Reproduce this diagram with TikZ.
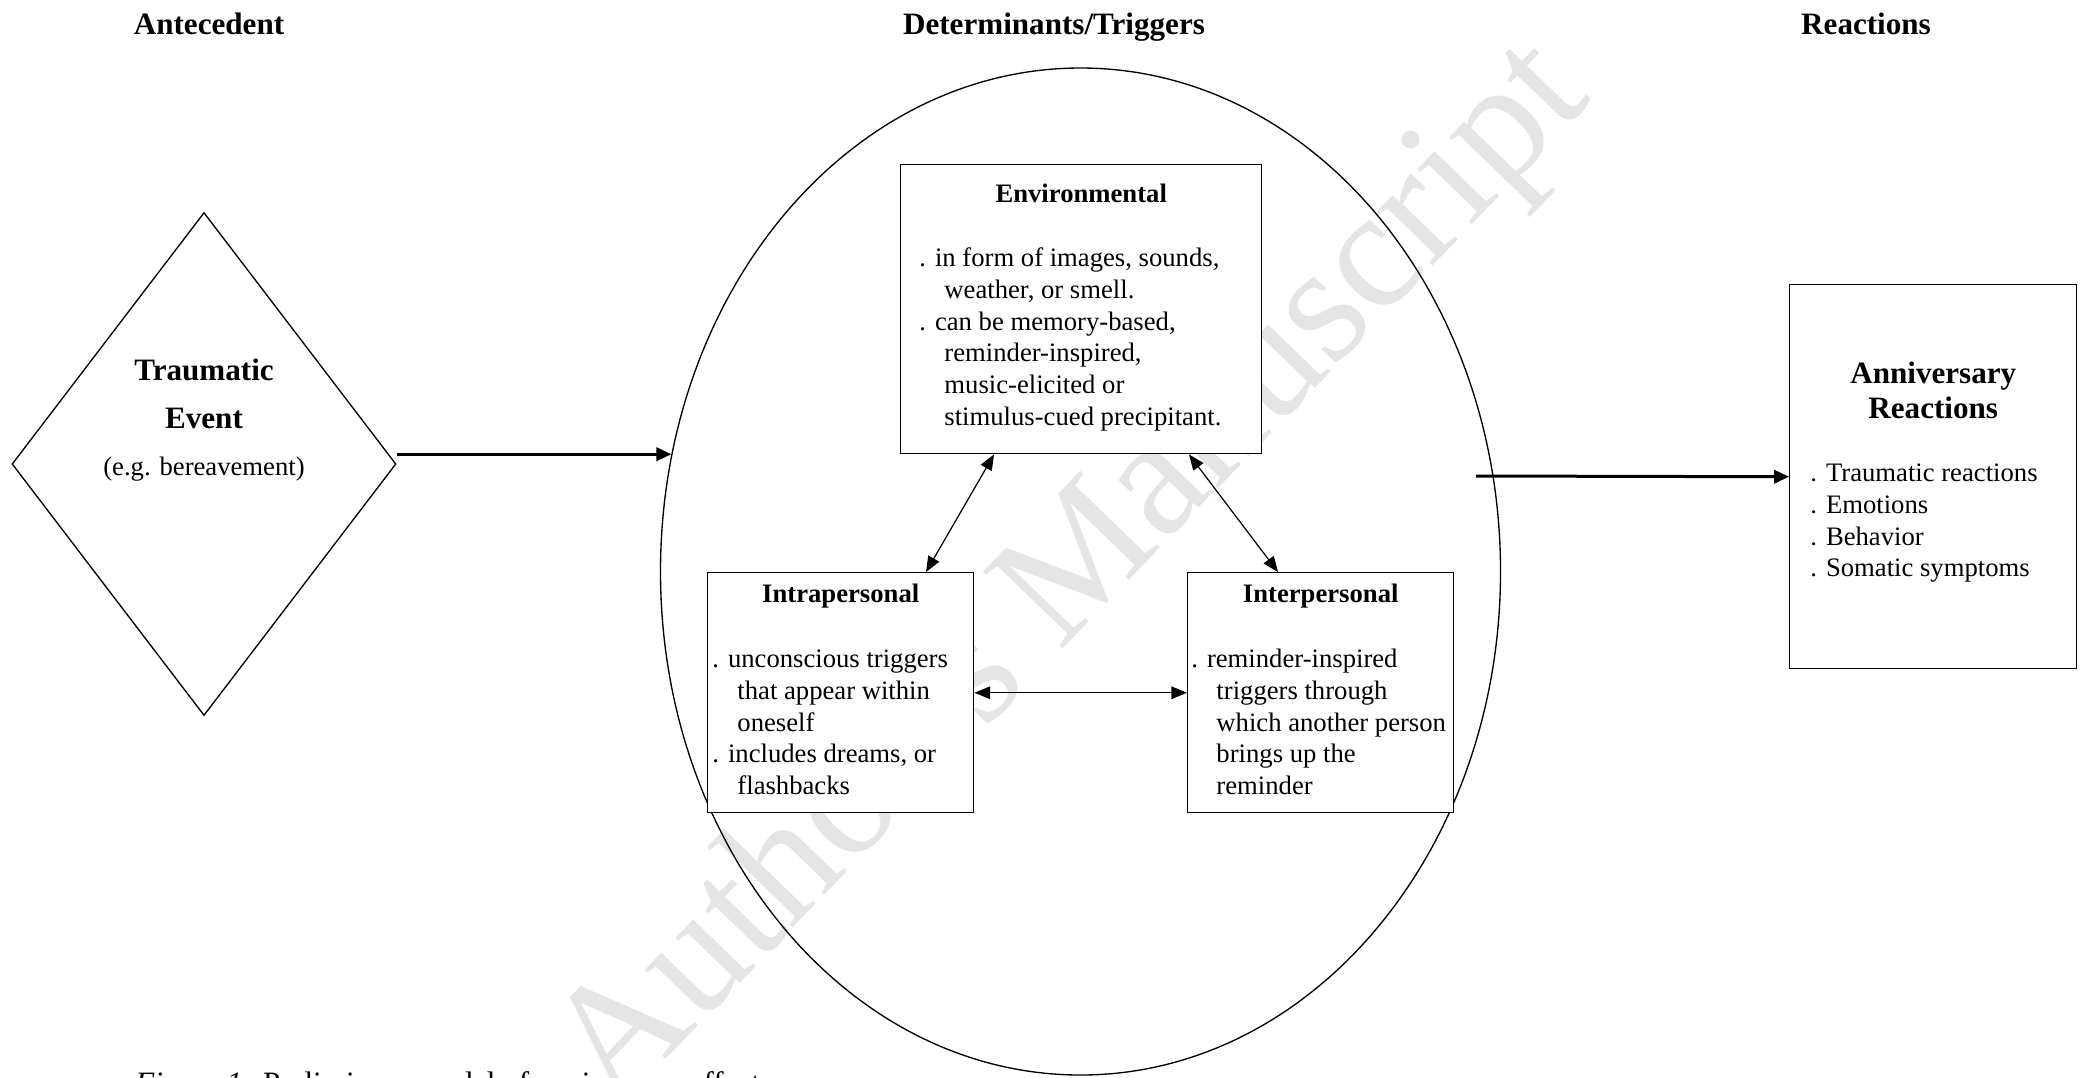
\documentclass[tikz,border=0pt]{standalone}
\usepackage{fontspec}
\setmainfont{Liberation Serif}
\usepackage{tikz}
\usetikzlibrary{shapes.geometric,arrows.meta,positioning,calc}
\newcommand{\Body}{\fontsize{12}{14.26}\selectfont}
\newcommand{\Head}{\fontsize{14}{15.5}\selectfont\bfseries}
\newcommand{\Wrap}{\hspace*{11.25pt}}

\begin{document}
\begin{tikzpicture}[
			x=0.45pt,
			y=-0.45pt,
			heading/.style={
				anchor=base,
				font=\Head,
				inner sep=0pt
			},
			trigbox/.style={
				rectangle,
				draw,
				fill=white,
				line width=0.65pt,
				anchor=north west,
				inner sep=0pt
			},
			boxtitle/.style={
				anchor=base,
				font=\Body\bfseries,
				inner sep=0pt
			},
			itemlist/.style={
				anchor=north west,
				align=left,
				font=\Body,
				inner sep=0pt
			},
			flow/.style={-{Triangle[length=6.75pt,width=6pt]}, line width=1.35pt},
			link/.style={{Triangle[length=7pt,width=5.6pt]}-{Triangle[length=7pt,width=5.6pt]}, line width=0.55pt}
			]
			\path[use as bounding box, fill=white] (0,0) rectangle (2087,1077);
			% Watermark behind the model
			\node[rotate=46, font=\fontsize{76}{80}\selectfont, text=gray!20] (mark) at (1075,578) {Author's Manuscript};
			% Column headings
			\node[heading] (antecedent) at (209,34) {Antecedent};
			\node[heading] (determinants) at (1054,34) {Determinants/Triggers};
			\node[heading] (reactions) at (1866,34) {Reactions};
			% Antecedent
			\node[diamond, draw, line width=0.6pt, minimum width=172.8pt, minimum height=226.35pt, inner sep=0pt] (event) at (204,464) {};
			\node[anchor=north, align=center, font=\fontsize{12}{21.4}\selectfont, inner sep=0pt] (eventtext) at (204,347) {\strut{\Head Traumatic}\\{\Head Event}\\(e.g. bereavement)};
			% Determinants/Triggers
			\node[ellipse, draw, line width=0.6pt, minimum width=378pt, minimum height=453.15pt, inner sep=0pt] (triggers) at (1080.5,571.5) {};
			\node[trigbox, minimum width=162.45pt, minimum height=130.05pt] (env) at (900,164) {};
			\node[boxtitle] (envtitle) at ($(env.north)+(0,38)$) {Environmental};
			\node[itemlist] (envlist) at ($(env.north west)+(19,80)$) {\strut. in form of images, sounds,\\ \Wrap weather, or smell.\\ . can be memory-based,\\ \Wrap reminder-inspired,\\ \Wrap music-elicited or\\ \Wrap stimulus-cued precipitant.};
			\node[trigbox, minimum width=119.7pt, minimum height=108pt] (intra) at (707,572) {};
			\node[boxtitle] (intratitle) at ($(intra.north)+(0,30)$) {Intrapersonal};
			\node[itemlist] (intralist) at ($(intra.north west)+(5,73)$) {\strut. unconscious triggers\\ \Wrap that appear within\\ \Wrap oneself\\ . includes dreams, or\\ \Wrap flashbacks};
			\node[trigbox, minimum width=119.7pt, minimum height=108pt] (inter) at (1187,572) {};
			\node[boxtitle] (intertitle) at ($(inter.north)+(0,30)$) {Interpersonal};
			\node[itemlist] (interlist) at ($(inter.north west)+(4,73)$) {\strut. reminder-inspired\\ \Wrap triggers through\\ \Wrap which another person\\ \Wrap brings up the\\ \Wrap reminder};
			% Links between the three kinds of trigger
			\draw[link] ($(env.south west)+(94,0)$) -- ($(intra.north west)+(219,0)$);
			\draw[link] ($(env.south west)+(289,0)$) -- ($(inter.north west)+(91,0)$);
			\draw[link] (intra.east) -- (inter.west);
			% Reactions
			\node[trigbox, minimum width=129.15pt, minimum height=172.8pt] (react) at (1789,284) {};
			\node[anchor=north, align=center, font=\Head, inner sep=0pt] (reacttitle) at ($(react.north)+(0,75)$) {\strut Anniversary\\Reactions};
			\node[itemlist] (reactlist) at ($(react.north west)+(21,175)$) {\strut. Traumatic reactions\\ . Emotions\\ . Behavior\\ . Somatic symptoms};
			% Main flow
			\draw[flow] (event.east |- triggers.164) -- (triggers.164);
			\coordinate (outflow) at (1476,476);
			\draw[flow] (outflow) -- (react.west);
			% Caption
			\node[anchor=base west, font=\fontsize{14}{16}\selectfont, inner sep=0pt] (caption) at (135,1093) {\textit{Figure 1:} Preliminary model of anniversary effect};
		\end{tikzpicture}
\end{document}
